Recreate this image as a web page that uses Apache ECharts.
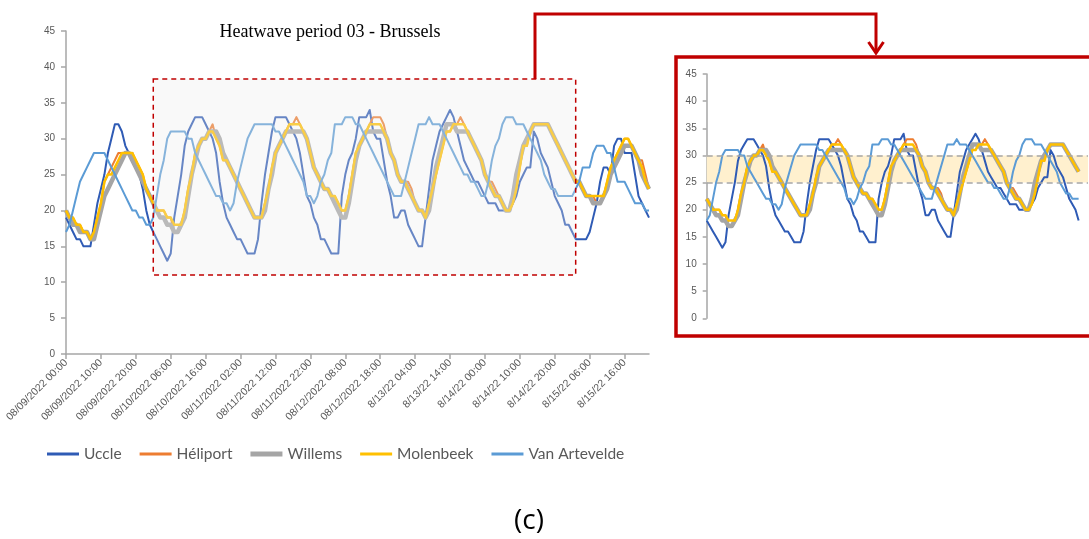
<!DOCTYPE html>
<html><head><meta charset="utf-8">
<script src="https://cdn.jsdelivr.net/npm/echarts@6/dist/echarts.min.js"></script>
<style>html,body{margin:0;padding:0;background:#fff}#c{width:1089px;height:539px}</style>
</head><body><div id="c"></div><script>
// Hourly temperatures (°C), 9 Aug 2022 00:00 -> 15 Aug 2022 23:00
const uccle = [19,18,17,16,16,15,15,15,18,21,
 23,25,28,30,32,32,31,29,28,28,
 26,25,23,20,18,17,16,15,14,13,
 14,19,22,25,29,31,32,33,33,33,
 32,31,30,28,24,21,19,18,17,16,
 16,15,14,14,14,16,21,25,28,31,
 33,33,33,33,32,31,30,28,25,22,
 21,19,18,16,16,15,14,14,14,22,
 25,27,28,30,33,33,33,34,31,30,
 30,27,24,22,19,19,20,20,18,17,
 16,15,15,19,23,27,29,31,32,33,
 34,33,31,29,27,26,25,24,24,23,
 22,21,21,21,20,20,20,20,21,22,
 24,25,26,26,31,30,28,27,26,24,
 22,21,20,18,18,17,16,16,16,16,
 17,19,21,24,26,26,25,29,30,30,
 28,28,28,25,22,21,20,19];
const heliport = [20,19,19,18,18,17,17,16,17,19,
 21,24,25,26,27,28,28,28,28,28,
 27,26,25,23,22,21,20,20,20,19,
 19,17,17,18,20,23,25,28,29,30,
 30,31,32,30,29,27,27,26,25,24,
 23,22,21,20,19,19,19,21,23,26,
 28,29,30,31,32,32,33,32,31,30,
 28,26,25,24,23,23,22,22,21,20,
 20,22,25,28,29,30,31,32,33,33,
 33,32,30,28,27,25,24,24,24,23,
 21,20,20,19,21,23,25,27,29,31,
 31,32,32,33,32,31,30,29,28,27,
 25,24,24,23,22,21,20,20,21,23,
 26,29,29,31,32,32,32,32,32,31,
 30,29,28,27,26,25,24,24,23,22,
 22,22,21,21,22,24,26,27,28,29,
 30,30,29,28,27,27,25,23];
const willems = [20,19,18,18,17,17,17,16,16,18,
 20,22,23,24,25,26,27,28,28,27,
 26,25,24,23,22,21,20,19,19,18,
 18,17,17,18,19,22,25,27,29,30,
 30,31,31,31,30,28,27,26,25,24,
 23,22,21,20,19,19,19,20,23,25,
 28,29,30,31,31,31,31,31,31,30,
 28,26,25,24,23,23,22,21,20,19,
 19,21,24,27,29,30,31,31,31,31,
 31,31,30,28,27,25,24,24,23,22,
 21,20,20,19,20,23,26,28,30,32,
 32,32,31,31,31,31,30,29,28,27,
 25,24,23,22,22,21,20,20,22,25,
 27,29,30,31,32,32,32,32,32,31,
 30,29,28,27,26,25,24,24,23,22,
 22,21,21,21,22,23,25,26,27,28,
 29,29,29,28,27,25,24,23];
const molenbeek = [20,19,19,18,18,17,17,16,17,19,
 21,24,25,25,26,27,28,28,28,28,
 27,26,25,23,22,21,20,20,20,19,
 19,18,18,18,20,23,25,28,29,30,
 30,31,31,30,29,27,27,26,25,24,
 23,22,21,20,19,19,19,21,23,26,
 28,29,30,31,32,32,32,32,31,30,
 28,26,25,24,23,23,22,22,21,20,
 20,22,25,28,29,30,31,32,32,32,
 32,31,30,28,27,25,24,24,23,22,
 21,20,20,19,21,23,25,27,29,31,
 31,32,32,32,32,31,30,29,28,27,
 25,24,23,22,22,21,20,20,21,23,
 26,29,29,31,32,32,32,32,32,31,
 30,29,28,27,26,25,24,24,23,22,
 22,22,22,22,22,24,26,27,28,29,
 30,30,29,28,27,26,24,23];
const vanArtevelde = [17,18,20,22,24,25,26,27,28,28,
 28,28,27,26,25,24,23,22,21,20,
 20,19,19,18,18,19,22,25,27,30,
 31,31,31,31,31,30,30,28,27,26,
 25,24,23,22,22,21,21,20,21,24,
 26,28,30,31,32,32,32,32,32,32,
 31,31,30,29,28,27,26,25,24,22,
 22,21,22,24,25,27,28,32,32,32,
 33,33,33,32,32,31,30,29,28,27,
 26,25,24,23,22,22,22,24,26,28,
 30,32,32,32,33,32,32,32,31,30,
 29,28,27,26,25,25,24,24,23,22,
 22,24,27,29,30,32,33,33,33,32,
 32,32,31,30,29,28,27,25,24,23,
 23,22,22,22,22,22,23,24,26,26,
 26,28,29,29,29,28,28,26,24,24,
 24,23,22,21,21,21,20,20];
const tickLabels = ['08/09/2022 00:00','08/09/2022 10:00','08/09/2022 20:00','08/10/2022 06:00','08/10/2022 16:00',
 '08/11/2022 02:00','08/11/2022 12:00','08/11/2022 22:00','08/12/2022 08:00','08/12/2022 18:00',
 '8/13/22 04:00','8/13/22 14:00','8/14/22 00:00','8/14/22 10:00','8/14/22 20:00','8/15/22 06:00','8/15/22 16:00'];
const seriesNames = ['Uccle','Héliport','Willems','Molenbeek','Van Artevelde'];
const seriesColors = ['#2F5BB5','#ED7D31','#A5A5A5','#FFC000','#5B9BD5'];
const seriesWidths = [2,2,4.5,2.5,2];
const legendThickness = [3,3,5,3,3];
const allData = [uccle, heliport, willems, molenbeek, vanArtevelde];
// inset window (hour indices)
const insetStart = 24, insetEnd = 143, insetAxisEnd = 146;
const bandLow = 25, bandHigh = 30;

const categories = [];
for (let h = 0; h < uccle.length; h++) {
  const d = 9 + Math.floor(h / 24), hh = String(h % 24).padStart(2, '0') + ':00';
  categories.push(d < 13 ? '08/' + String(d).padStart(2, '0') + '/2022 ' + hh : '8/' + d + '/22 ' + hh);
}

const chart = echarts.init(document.getElementById('c'), null, {renderer: 'canvas'});
const axisGrey = '#A6A6A6', labelGrey = '#595959';

const series = [];
allData.forEach((d, k) => {
  series.push({
    name: seriesNames[k], type: 'line', data: d, xAxisIndex: 0, yAxisIndex: 0,
    symbol: 'none', showSymbol: false, color: seriesColors[k],
    lineStyle: {width: seriesWidths[k], color: seriesColors[k], join: 'round'}
  });
});
allData.forEach((d, k) => {
  const s = {
    name: seriesNames[k], type: 'line', data: d.slice(insetStart, insetEnd + 1), xAxisIndex: 1, yAxisIndex: 1,
    symbol: 'none', showSymbol: false, color: seriesColors[k],
    lineStyle: {width: seriesWidths[k], color: seriesColors[k], join: 'round'}
  };
  if (k === 0) {
    s.markArea = {silent: true, itemStyle: {color: '#FFF0CE'}, data: [[{yAxis: bandLow}, {yAxis: bandHigh}]]};
    s.markLine = {silent: true, symbol: 'none', label: {show: false},
      lineStyle: {type: [6, 4], color: '#A6A6A6', width: 1.5},
      data: [{yAxis: bandLow}, {yAxis: bandHigh}]};
  }
  series.push(s);
});

chart.setOption({
  animation: false,
  backgroundColor: '#fff',
  grid: [
    {left: 66, right: 440, top: 31, bottom: 185, outerBoundsMode: 'none', containLabel: false},
    {left: 706.7, right: 1, top: 74, bottom: 220.7, outerBoundsMode: 'none', containLabel: false}
  ],
  xAxis: [
    {type: 'category', gridIndex: 0, data: categories, boundaryGap: false,
      axisLine: {lineStyle: {color: axisGrey, width: 1.5}},
      axisTick: {interval: 9, length: 5, lineStyle: {color: axisGrey, width: 1.5}},
      axisLabel: {interval: 9, rotate: 45, fontSize: 10.5, color: labelGrey, margin: 7, fontFamily: 'Liberation Sans',
        formatter: (v, i) => tickLabels[Math.round(i / 10)] || v},
      splitLine: {show: false}},
    {type: 'category', gridIndex: 1, data: categories.slice(insetStart, insetAxisEnd + 1), boundaryGap: false, show: false}
  ],
  yAxis: [
    {type: 'value', gridIndex: 0, min: 0, max: 45, interval: 5,
      axisLine: {show: true, lineStyle: {color: axisGrey, width: 1.5}},
      axisTick: {show: true, length: 5, lineStyle: {color: axisGrey, width: 1.5}},
      axisLabel: {fontSize: 10, color: labelGrey, margin: 11, fontFamily: 'Liberation Sans'},
      splitLine: {show: false}},
    {type: 'value', gridIndex: 1, min: 0, max: 45, interval: 5,
      axisLine: {show: true, lineStyle: {color: axisGrey, width: 1.5}},
      axisTick: {show: true, length: 4, lineStyle: {color: axisGrey, width: 1.5}},
      axisLabel: {fontSize: 10, color: labelGrey, margin: 10, fontFamily: 'Liberation Sans'},
      splitLine: {show: false}}
  ],
  legend: {
    left: 47, top: 446, padding: 0, itemWidth: 32, itemHeight: 14, itemGap: 18,
    data: seriesNames.map((n, k) => ({name: n, icon: 'path://M0,0H32V' + legendThickness[k] + 'H0Z'})),
    textStyle: {fontFamily: 'Lato', fontSize: 15.5, color: labelGrey}
  },
  series: series
});

const tl = chart.convertToPixel({gridIndex: 0}, [25, 38.3]);
const br = chart.convertToPixel({gridIndex: 0}, [146, 11]);
chart.setOption({
  graphic: [
    {type: 'rect', z: 100, silent: true,
      shape: {x: tl[0], y: tl[1], width: br[0] - tl[0], height: br[1] - tl[1]},
      style: {fill: 'rgba(236,236,236,0.3)', stroke: '#C00000', lineWidth: 1.5, lineDash: [5, 4]}},
    {type: 'polyline', z: 100, silent: true,
      shape: {points: [[535, tl[1]], [535, 14], [876, 14], [876, 52]]},
      style: {stroke: '#C00000', lineWidth: 3, fill: null}},
    {type: 'polyline', z: 100, silent: true,
      shape: {points: [[868.5, 42], [876, 53], [883.5, 42]]},
      style: {stroke: '#C00000', lineWidth: 3, fill: null}},
    {type: 'rect', z: 100, silent: true,
      shape: {x: 676, y: 57, width: 430, height: 279},
      style: {fill: null, stroke: '#C00000', lineWidth: 3.5}},
    {type: 'text', z: 100, silent: true, x: 330, y: 32,
      style: {text: 'Heatwave period 03 - Brussels', font: '18px "Liberation Serif"', fill: '#000',
        textAlign: 'center', textVerticalAlign: 'middle'}},
    {type: 'text', z: 100, silent: true, x: 529, y: 521,
      style: {text: '(c)', font: '28px "Open Sans"', fill: '#000', textAlign: 'center', textVerticalAlign: 'middle'}}
  ]
});
</script></body></html>
